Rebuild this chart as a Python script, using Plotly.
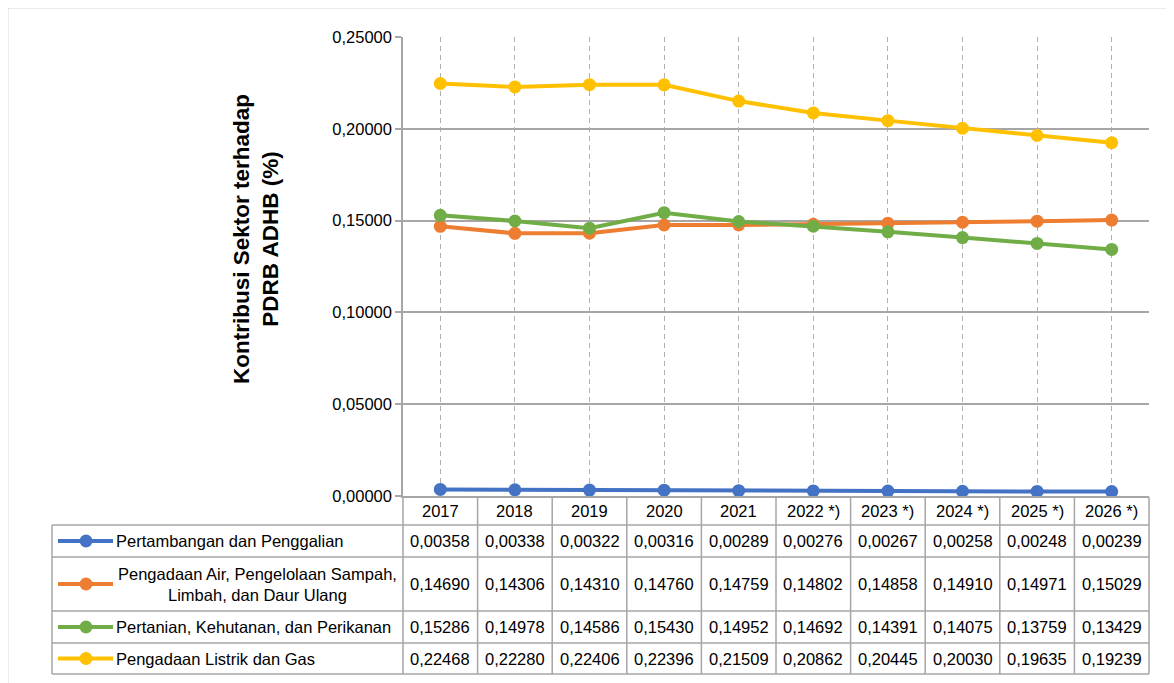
import plotly.graph_objects as go

years = ["2017", "2018", "2019", "2020", "2021",
         "2022 *)", "2023 *)", "2024 *)", "2025 *)", "2026 *)"]

series_names = [
    "Pertambangan dan Penggalian",
    "Pengadaan Air, Pengelolaan Sampah,<br>Limbah, dan Daur Ulang",
    "Pertanian, Kehutanan, dan Perikanan",
    "Pengadaan Listrik dan Gas",
]
tambang = [0.00358, 0.00338, 0.00322, 0.00316, 0.00289,
           0.00276, 0.00267, 0.00258, 0.00248, 0.00239]
air = [0.14690, 0.14306, 0.14310, 0.14760, 0.14759,
       0.14802, 0.14858, 0.14910, 0.14971, 0.15029]
tani = [0.15286, 0.14978, 0.14586, 0.15430, 0.14952,
        0.14692, 0.14391, 0.14075, 0.13759, 0.13429]
listrik = [0.22468, 0.22280, 0.22406, 0.22396, 0.21509,
           0.20862, 0.20445, 0.20030, 0.19635, 0.19239]

colors = ["#4472C4", "#ED7D31", "#70AD47", "#FFC000"]
all_series = [tambang, air, tani, listrik]

OFF = 8  # page body margin
W, H = 1174 - OFF, 683 - OFF
L, R, T, B = 403, 1149, 37, 496  # plot area in page pixels
FONT = "Liberation Sans, Arial, sans-serif"
GRID = "#a6a6a6"


def px(x):
    return (x - L) / (R - L)


def py(y):
    return (B - y) / (B - T)


fig = go.Figure()
for name, vals, c in zip(series_names, all_series, colors):
    fig.add_trace(go.Scatter(
        x=years, y=vals, mode="lines+markers", name=name.replace("<br>", " "),
        line=dict(color=c, width=4),
        marker=dict(color=c, size=13),
        showlegend=False,
    ))

shapes = []
annotations = []

# outer chart border
shapes.append(dict(type="rect", xref="paper", yref="paper",
                   x0=px(7.5), x1=px(1185), y0=py(7.5), y1=py(695),
                   line=dict(color="#b0b0b0", width=1.5)))

# data table geometry
col_w = (R - L) / len(years)
row_edges = [525, 557, 611, 643, 674]
header_top = 497
left_x = 52


def hline(x0, x1, y):
    shapes.append(dict(type="line", xref="paper", yref="paper",
                       x0=px(x0), x1=px(x1), y0=py(y), y1=py(y),
                       line=dict(color=GRID, width=1.5)))


def vline(x, y0, y1):
    shapes.append(dict(type="line", xref="paper", yref="paper",
                       x0=px(x), x1=px(x), y0=py(y0), y1=py(y1),
                       line=dict(color=GRID, width=1.5)))


hline(L, R, header_top)
for y in row_edges:
    hline(left_x, R, y)
vline(left_x, row_edges[0], row_edges[-1])
for i in range(len(years) + 1):
    vline(L + i * col_w, header_top, row_edges[-1])

# header row (years)
for i, yr in enumerate(years):
    annotations.append(dict(
        xref="paper", yref="paper", x=px(L + (i + 0.5) * col_w),
        y=py((header_top + row_edges[0]) / 2), text=yr, showarrow=False,
        font=dict(family=FONT, size=16.5, color="#000000"),
        xanchor="center", yanchor="middle"))

# data rows
for r, (name, vals, c) in enumerate(zip(series_names, all_series, colors)):
    yc = (row_edges[r] + row_edges[r + 1]) / 2
    for i, v in enumerate(vals):
        annotations.append(dict(
            xref="paper", yref="paper", x=px(L + (i + 0.5) * col_w), y=py(yc),
            text=f"{v:.5f}".replace(".", ","), showarrow=False,
            font=dict(family=FONT, size=16.5, color="#000000"),
            xanchor="center", yanchor="middle"))
    # legend key
    shapes.append(dict(type="line", xref="paper", yref="paper",
                       x0=px(58), x1=px(113), y0=py(yc), y1=py(yc),
                       line=dict(color=c, width=4)))
    shapes.append(dict(type="circle", xref="paper", yref="paper",
                       x0=px(79.5), x1=px(92.5), y0=py(yc - 6.5), y1=py(yc + 6.5),
                       fillcolor=c, line=dict(color=c, width=0)))
    if "<br>" in name:
        annotations.append(dict(
            xref="paper", yref="paper", x=px(257), y=py(yc), text=name,
            showarrow=False, align="center",
            font=dict(family=FONT, size=16.5, color="#000000"),
            xanchor="center", yanchor="middle"))
    else:
        annotations.append(dict(
            xref="paper", yref="paper", x=px(114), y=py(yc), text=name,
            showarrow=False, font=dict(family=FONT, size=16.5, color="#000000"),
            xanchor="left", yanchor="middle"))

# y axis title
annotations.append(dict(
    xref="paper", yref="paper", x=px(256), y=py(239),
    text="<b>Kontribusi Sektor terhadap<br>PDRB ADHB (%)</b>",
    showarrow=False, textangle=-90, align="center",
    font=dict(family=FONT, size=22.5, color="#000000"),
    xanchor="center", yanchor="middle"))

fig.update_layout(
    width=W, height=H,
    margin=dict(l=L - OFF, r=W - (R - OFF), t=T - OFF, b=H - (B - OFF)),
    plot_bgcolor="white", paper_bgcolor="white",
    separators=",.",
    shapes=shapes, annotations=annotations,
    xaxis=dict(type="category", range=[-0.5, len(years) - 0.5],
               showticklabels=False, ticks="",
               showgrid=True, gridcolor="#b0b0b0", gridwidth=1,
               griddash="5px,4px",
               showline=True, linecolor=GRID, linewidth=1.5, zeroline=False),
    yaxis=dict(range=[0, 0.25], dtick=0.05, tickformat=".5f",
               showgrid=True, gridcolor=GRID, gridwidth=1.5,
               ticks="outside", ticklen=6, tickcolor=GRID, tickwidth=1.5,
               showline=True, linecolor=GRID, linewidth=1.5, zeroline=False,
               tickfont=dict(family=FONT, size=16.5, color="#000000")),
)

fig.write_html("out.html")
